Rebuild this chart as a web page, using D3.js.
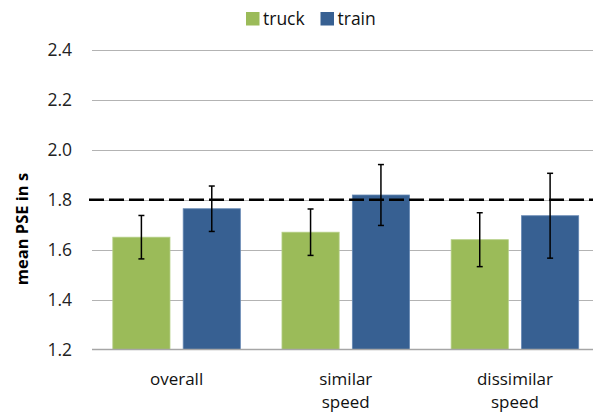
<!DOCTYPE html>
<html>
<head>
<meta charset="utf-8">
<script src="https://cdn.jsdelivr.net/npm/d3@7"></script>
<style>
  html, body { margin: 0; padding: 0; background: #fff; }
  svg { display: block; font-family: "Open Sans", "Noto Sans", sans-serif; }
</style>
</head>
<body>
<svg id="chart" width="593" height="412"></svg>
<script>
// Mean PSE per condition, with error bar half-widths
const categories = [["overall"], ["similar", "speed"], ["dissimilar", "speed"]];
const seriesNames = ["truck", "train"];
const truckMeans = [1.65, 1.67, 1.64];
const trainMeans = [1.764, 1.819, 1.736];
const truckErrors = [0.087, 0.093, 0.108];
const trainErrors = [0.091, 0.122, 0.170];
const yTicks = [1.2, 1.4, 1.6, 1.8, 2.0, 2.2, 2.4];
const referenceValue = 1.8;
const colors = { truck: "#9bbb59", train: "#376092" };

const svg = d3.select("#chart");
const catKeys = categories.map(c => c.join(" "));

const rows = catKeys.map((k, i) => ({
  key: k,
  values: [
    { s: "truck", v: truckMeans[i], e: truckErrors[i] },
    { s: "train", v: trainMeans[i], e: trainErrors[i] }
  ]
}));

const plotLeft = 92, plotRight = 599.5;
const y = d3.scaleLinear().domain([1.2, 2.4]).range([349.5, 50]);
const x0 = d3.scaleBand().domain(catKeys).range([plotLeft, plotRight])
  .paddingInner(0.246).paddingOuter(0.123);
const x1 = d3.scaleBand().domain(seriesNames).range([0, x0.bandwidth()])
  .paddingInner(0.1875).paddingOuter(0);

// gridlines
svg.append("g").selectAll("line").data(yTicks.slice(1)).join("line")
  .attr("x1", plotLeft).attr("x2", 593)
  .attr("y1", d => Math.round(y(d)) + 0.5).attr("y2", d => Math.round(y(d)) + 0.5)
  .attr("stroke", "#b3b3b3").attr("stroke-width", 1);

// y tick labels
svg.append("g").selectAll("text").data(yTicks).join("text")
  .attr("x", 72).attr("y", d => y(d))
  .attr("dy", "0.35em")
  .attr("text-anchor", "end")
  .attr("font-size", 17.5)
  .attr("fill", "#222")
  .text(d => d3.format(".1f")(d));

// bars
const groups = svg.append("g").selectAll("g").data(rows).join("g")
  .attr("transform", d => `translate(${x0(d.key)},0)`);

groups.selectAll("rect").data(d => d.values).join("rect")
  .attr("x", d => x1(d.s))
  .attr("width", x1.bandwidth())
  .attr("y", d => y(d.v))
  .attr("height", d => y(1.2) - y(d.v))
  .attr("fill", d => colors[d.s])
  .attr("stroke", d => d.s === "truck" ? "#b5cf86" : "#6688b3")
  .attr("stroke-width", 0.8);

// x axis baseline
svg.append("line")
  .attr("x1", plotLeft).attr("x2", 593)
  .attr("y1", y(1.2)).attr("y2", y(1.2))
  .attr("stroke", "#a6a6a6").attr("stroke-width", 1.5);

// reference line
svg.append("line")
  .attr("x1", 89).attr("x2", 593)
  .attr("y1", y(referenceValue)).attr("y2", y(referenceValue))
  .attr("stroke", "#000").attr("stroke-width", 2.6)
  .attr("stroke-dasharray", "15,5");

// error bars
const eb = groups.selectAll("g.err").data(d => d.values).join("g").attr("class", "err")
  .attr("transform", d => `translate(${x1(d.s) + x1.bandwidth() / 2},0)`);
eb.append("line")
  .attr("x1", 0).attr("x2", 0)
  .attr("y1", d => y(d.v + d.e)).attr("y2", d => y(d.v - d.e))
  .attr("stroke", "#000").attr("stroke-width", 1.5);
eb.append("line")
  .attr("x1", -3).attr("x2", 3)
  .attr("y1", d => y(d.v + d.e)).attr("y2", d => y(d.v + d.e))
  .attr("stroke", "#000").attr("stroke-width", 1.5);
eb.append("line")
  .attr("x1", -3).attr("x2", 3)
  .attr("y1", d => y(d.v - d.e)).attr("y2", d => y(d.v - d.e))
  .attr("stroke", "#000").attr("stroke-width", 1.5);

// category labels
const catText = svg.append("g").selectAll("text").data(categories).join("text")
  .attr("text-anchor", "middle")
  .attr("font-size", 17)
  .attr("fill", "#111")
  .attr("transform", (d, i) => `translate(${x0(catKeys[i]) + x0.bandwidth() / 2},385)`);
catText.selectAll("tspan").data(d => d).join("tspan")
  .attr("x", 0).attr("dy", (d, i) => i === 0 ? 0 : 22.5)
  .text(d => d);

// y axis title
svg.append("text")
  .attr("transform", "translate(28,229) rotate(-90)")
  .attr("text-anchor", "middle")
  .attr("font-size", 16.5)
  .attr("font-weight", "bold")
  .attr("fill", "#000")
  .text("mean PSE in s");

// legend
const legendX = [246, 320.5];
const legend = svg.append("g").selectAll("g").data(seriesNames).join("g")
  .attr("transform", (d, i) => `translate(${legendX[i]},12)`);
legend.append("rect").attr("width", 13.5).attr("height", 13.5)
  .attr("fill", d => colors[d]);
legend.append("text").attr("x", 17).attr("y", 7).attr("dy", "0.35em")
  .attr("font-size", 17.5).attr("fill", "#111")
  .text(d => d);
</script>
</body>
</html>
